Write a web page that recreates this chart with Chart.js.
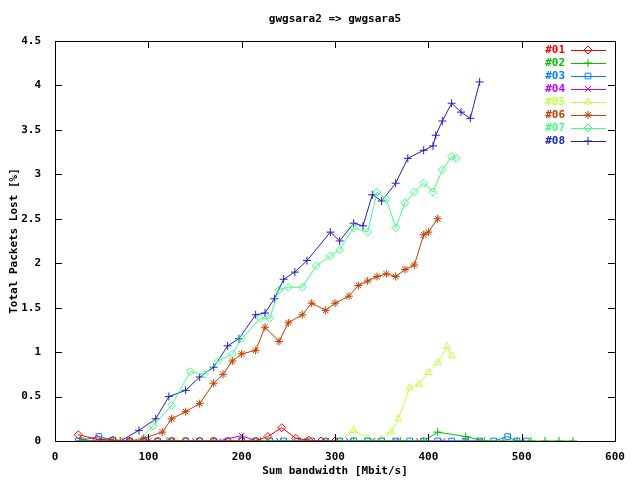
<!DOCTYPE html>
<html>
<head>
<meta charset="utf-8">
<script src="https://cdn.jsdelivr.net/npm/chart.js@4"></script>
<style>
  body { margin: 0; background: #fff; }
  #wrap { width: 640px; height: 480px; }
</style>
</head>
<body>
<div id="wrap"><canvas id="c"></canvas></div>
<script>
const xTicks = [0, 100, 200, 300, 400, 500, 600];
const yTicks = [0, 0.5, 1, 1.5, 2, 2.5, 3, 3.5, 4, 4.5];

// each series: x (Mbit/s) and y (% lost)
const s01x = [25, 45, 62, 80, 95, 110, 125, 140, 155, 170, 185, 200, 215, 228, 243, 258, 272, 285, 300];
const s01y = [0.07, 0.02, 0.01, 0, 0, 0, 0, 0, 0, 0, 0, 0, 0, 0.05, 0.15, 0.03, 0.01, 0, 0];
const s02x = [28, 70, 120, 170, 220, 270, 320, 370, 395, 410, 440, 460, 480, 495, 510, 525, 540, 555];
const s02y = [0, 0, 0, 0, 0, 0, 0, 0, 0, 0.1, 0.05, 0, 0, 0, 0, 0, 0, 0];
const s03x = [25, 47, 62, 80, 95, 110, 125, 140, 155, 170, 185, 200, 215, 230, 245, 260, 275, 290, 305, 320, 335, 350, 365, 380, 395, 410, 425, 440, 455, 470, 485, 495, 505];
const s03y = [0, 0.05, 0.01, 0, 0, 0, 0, 0, 0, 0, 0, 0, 0, 0, 0, 0, 0, 0, 0, 0, 0, 0, 0, 0, 0, 0, 0, 0, 0, 0, 0.05, 0, 0];
const s04x = [28, 50, 75, 100, 125, 150, 175, 200, 215, 240, 265, 290, 315, 340, 365, 390, 415, 440, 455];
const s04y = [0, 0, 0, 0, 0, 0, 0, 0.06, 0, 0, 0, 0, 0, 0, 0, 0, 0, 0, 0];
const s05x = [30, 50, 70, 90, 110, 130, 150, 170, 190, 210, 230, 250, 270, 290, 305, 320, 335, 350, 360, 368, 380, 390, 400, 410, 420, 425];
const s05y = [0, 0, 0, 0, 0, 0, 0, 0, 0, 0, 0, 0, 0, 0, 0, 0.12, 0.03, 0.02, 0.1, 0.25, 0.6, 0.64, 0.77, 0.88, 1.06, 0.96];
const s06x = [30, 60, 80, 95, 115, 125, 140, 155, 170, 180, 190, 200, 215, 225, 240, 250, 265, 275, 290, 300, 315, 325, 335, 345, 355, 365, 375, 385, 395, 400, 410];
const s06y = [0, 0, 0, 0.03, 0.1, 0.25, 0.33, 0.42, 0.65, 0.75, 0.9, 0.98, 1.02, 1.28, 1.12, 1.33, 1.42, 1.55, 1.47, 1.55, 1.63, 1.75, 1.8, 1.85, 1.88, 1.85, 1.93, 1.98, 2.32, 2.35, 2.5];
const s07x = [30, 60, 90, 105, 125, 145, 160, 175, 190, 200, 220, 230, 240, 250, 265, 280, 295, 305, 320, 335, 345, 355, 365, 375, 385, 395, 405, 415, 425, 430];
const s07y = [0, 0, 0, 0.17, 0.4, 0.78, 0.75, 0.9, 0.98, 1.15, 1.38, 1.38, 1.7, 1.73, 1.73, 1.97, 2.08, 2.15, 2.4, 2.35, 2.8, 2.72, 2.4, 2.68, 2.8, 2.9, 2.8, 3.05, 3.2, 3.18];
const s08x = [27, 50, 70, 90, 108, 122, 140, 155, 170, 185, 197, 215, 225, 235, 245, 257, 270, 295, 305, 320, 330, 340, 350, 365, 378, 395, 405, 408, 415, 425, 435, 445, 455];
const s08y = [0, 0, 0, 0.12, 0.25, 0.5, 0.57, 0.72, 0.83, 1.07, 1.15, 1.42, 1.44, 1.6, 1.82, 1.9, 2.03, 2.35, 2.25, 2.45, 2.42, 2.77, 2.7, 2.9, 3.18, 3.27, 3.32, 3.44, 3.6, 3.8, 3.7, 3.63, 4.04];

const names = ['#01', '#02', '#03', '#04', '#05', '#06', '#07', '#08'];
const colors = ['#ff0000', '#00c000', '#0080ff', '#c000ff', '#c0ff40', '#c04000', '#40ff80', '#2020c0'];
const markers = ['rectRot', 'cross', 'rect', 'crossRot', 'triangle', 'star', 'rectRot', 'cross'];
const xs = [s01x, s02x, s03x, s04x, s05x, s06x, s07x, s08x];
const ys = [s01y, s02y, s03y, s04y, s05y, s06y, s07y, s08y];

const FONT = 'bold 11px "DejaVu Sans Mono", monospace';

const datasets = names.map((n, i) => ({
  label: n,
  data: xs[i].map((x, j) => ({ x: x, y: ys[i][j] })),
  borderColor: colors[i],
  backgroundColor: 'rgba(0,0,0,0)',
  pointBorderColor: colors[i],
  pointBackgroundColor: 'rgba(0,0,0,0)',
  pointStyle: markers[i],
  pointRadius: 4,
  pointBorderWidth: 1,
  borderWidth: 1,
  showLine: true,
  tension: 0
}));

// gnuplot-style decorations: inward ticks, titles, legend
const gnuplotLook = {
  id: 'gnuplotLook',
  afterDraw(chart) {
    const ctx = chart.ctx;
    const a = chart.chartArea;
    const sx = chart.scales.x, sy = chart.scales.y;
    ctx.save();
    ctx.strokeStyle = '#000';
    ctx.lineWidth = 1;
    ctx.beginPath();
    xTicks.forEach(v => {
      const p = Math.round(sx.getPixelForValue(v)) + 0.5;
      ctx.moveTo(p, a.bottom); ctx.lineTo(p, a.bottom - 7);
      ctx.moveTo(p, a.top); ctx.lineTo(p, a.top + 7);
    });
    yTicks.forEach(v => {
      const p = Math.round(sy.getPixelForValue(v)) + 0.5;
      ctx.moveTo(a.left, p); ctx.lineTo(a.left + 7, p);
      ctx.moveTo(a.right, p); ctx.lineTo(a.right - 7, p);
    });
    ctx.stroke();
    ctx.strokeRect(Math.round(a.left) + 0.5, Math.round(a.top) + 0.5, Math.round(a.right - a.left), Math.round(a.bottom - a.top));

    ctx.fillStyle = '#000';
    ctx.font = FONT;
    ctx.textAlign = 'center';
    ctx.textBaseline = 'middle';
    ctx.fillText('gwgsara2 => gwgsara5', (a.left + a.right) / 2, 19);
    ctx.fillText('Sum bandwidth [Mbit/s]', (a.left + a.right) / 2, 471);
    ctx.save();
    ctx.translate(14, (a.top + a.bottom) / 2);
    ctx.rotate(-Math.PI / 2);
    ctx.fillText('Total Packets Lost [%]', 0, 0);
    ctx.restore();

    // legend
    datasets.forEach((d, i) => {
      const yy = 50 + i * 13;
      ctx.fillStyle = colors[i];
      ctx.textAlign = 'right';
      ctx.fillText(d.label, 565, yy);
      ctx.strokeStyle = colors[i];
      ctx.lineWidth = 1;
      ctx.beginPath();
      ctx.moveTo(571, yy + 0.5); ctx.lineTo(606, yy + 0.5);
      ctx.stroke();
      ctx.fillStyle = 'rgba(0,0,0,0)';
      Chart.helpers.drawPoint(ctx, { pointStyle: markers[i], radius: 4, borderWidth: 1 }, 588, yy);
    });
    ctx.restore();
  }
};

const tickFont = { family: 'DejaVu Sans Mono', size: 11, weight: 'bold' };

new Chart(document.getElementById('c'), {
  type: 'scatter',
  data: { datasets: datasets },
  options: {
    responsive: true,
    maintainAspectRatio: false,
    animation: false,
    layout: { padding: { top: 41, right: 25, left: 0, bottom: 0 } },
    plugins: { legend: { display: false }, tooltip: { enabled: false } },
    scales: {
      x: {
        type: 'linear', min: 0, max: 600,
        afterFit: s => { s.height = 39; },
        afterBuildTicks: s => { s.ticks = xTicks.map(v => ({ value: v })); },
        grid: { display: false },
        border: { display: false },
        ticks: { color: '#000', font: tickFont, padding: 2, maxRotation: 0, callback: v => String(v) }
      },
      y: {
        type: 'linear', min: 0, max: 4.5,
        afterFit: s => { s.width = 55; },
        afterBuildTicks: s => { s.ticks = yTicks.map(v => ({ value: v })); },
        grid: { display: false },
        border: { display: false },
        ticks: { color: '#000', font: tickFont, padding: 6, callback: v => String(v) }
      }
    }
  },
  plugins: [gnuplotLook]
});
</script>
</body>
</html>
